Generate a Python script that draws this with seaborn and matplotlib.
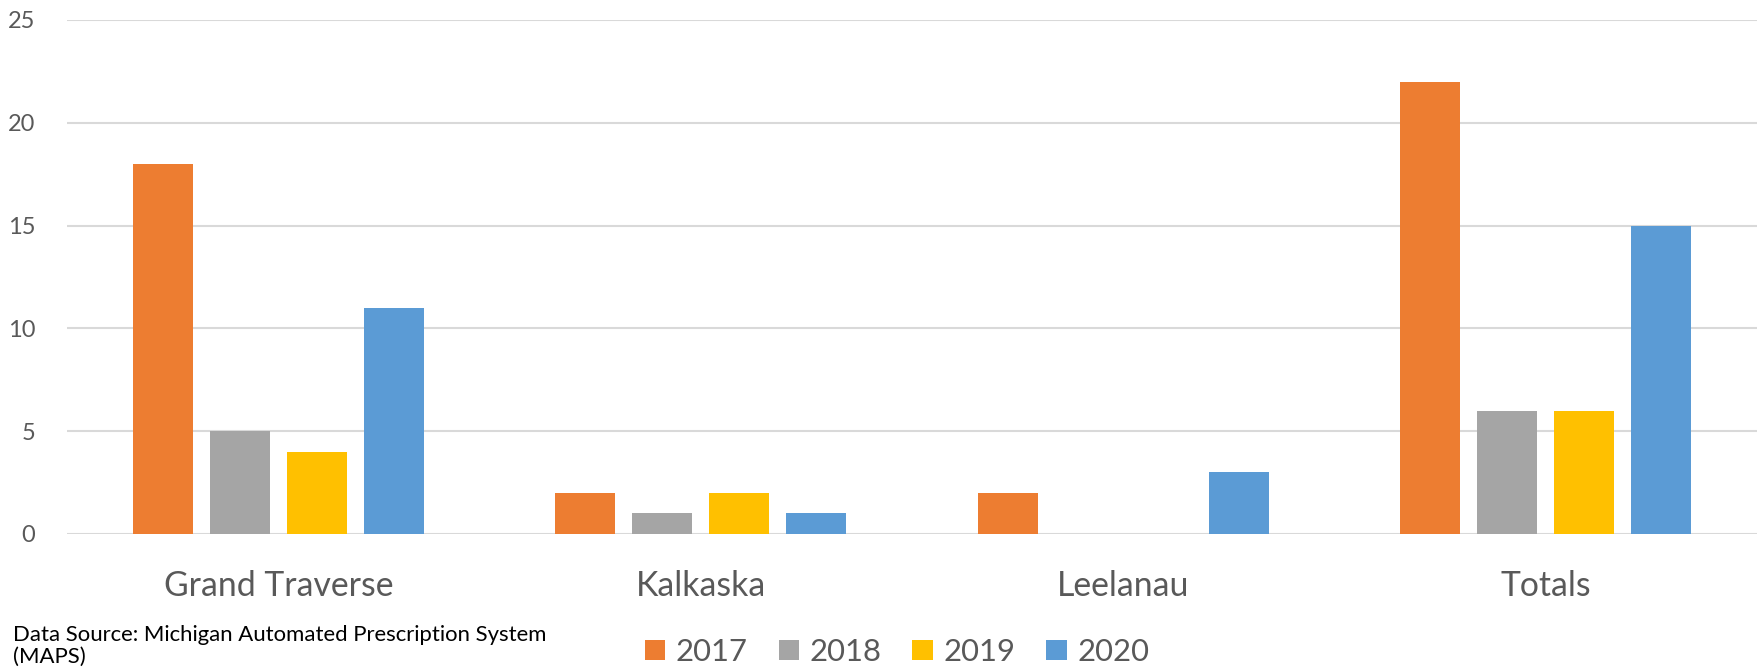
import pandas as pd
import matplotlib.pyplot as plt
import seaborn as sns

# values
COUNTIES = ["Grand Traverse", "Kalkaska", "Leelanau", "Totals"]
YEARS = ["2017", "2018", "2019", "2020"]
V2017 = [18, 2, 2, 22]
V2018 = [5, 1, 0, 6]
V2019 = [4, 2, 0, 6]
V2020 = [11, 1, 3, 15]
COLORS = ["#ED7D31", "#A5A5A5", "#FFC000", "#5B9BD5"]
SOURCE = "Data Source: Michigan Automated Prescription System\n(MAPS)"

TEXT = "#595959"

rows = []
for year, vals in zip(YEARS, [V2017, V2018, V2019, V2020]):
    for county, v in zip(COUNTIES, vals):
        rows.append({"county": county, "year": year, "count": v})
df = pd.DataFrame(rows)

sns.set_style("white")
plt.rcParams["font.family"] = ["Lato", "DejaVu Sans"]

fig = plt.figure(figsize=(17.63, 6.68), dpi=100)
# plot area: grid from x=67..1757, y=20 (25) .. 534 (0)
ax = fig.add_axes([67 / 1763, 1 - 534 / 668, (1757 - 67) / 1763, (534 - 20) / 668])

sns.barplot(data=df, x="county", y="count", hue="year", order=COUNTIES,
            hue_order=YEARS, palette=COLORS, width=0.73, gap=0.22,
            linewidth=0, saturation=1, ax=ax, zorder=3)

ax.set_ylim(0, 25)
ax.set_xlim(-0.5, 3.5)
ax.set_yticks(range(0, 26, 5))
ax.yaxis.grid(True, color="#D9D9D9", linewidth=1.5, zorder=0)
ax.set_axisbelow(True)
for s in ax.spines.values():
    s.set_visible(False)
ax.set_xlabel("")
ax.set_ylabel("")
ax.tick_params(axis="y", length=0, pad=23, labelsize=17, labelcolor=TEXT)
ax.tick_params(axis="x", length=0, pad=26, labelsize=24.3, labelcolor=TEXT)

handles, labels = ax.get_legend_handles_labels()
ax.get_legend().remove()
fig.legend(handles, labels, loc="center", bbox_to_anchor=(897 / 1763, 1 - 652 / 668),
           ncol=4, frameon=False, fontsize=22.3, labelcolor=TEXT,
           handlelength=0.65, handleheight=0.65, handletextpad=0.35, columnspacing=1.0)

# the reference clips "(MAPS)" at the bottom edge; keep it just inside
fig.text(13 / 1763, 1 / 668, SOURCE, ha="left", va="bottom", fontsize=15.9,
         color="black", linespacing=1.15)

fig.savefig("out.png", dpi=100)
